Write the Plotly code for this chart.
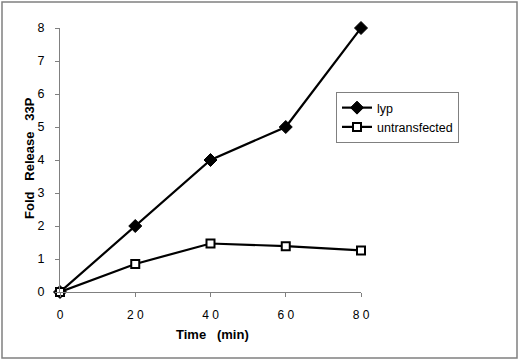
import plotly.graph_objects as go

time_min = [0, 20, 40, 60, 80]
lyp = [0, 2, 4, 5, 8]
untransfected = [0, 0.85, 1.47, 1.39, 1.26]
x_tick_vals = [0, 20, 40, 60, 80]
x_tick_text = ["0", "2 0", "4 0", "6 0", "8 0"]
y_tick_vals = [0, 1, 2, 3, 4, 5, 6, 7, 8]

FONT = "Liberation Sans, Arial, sans-serif"
W, H = 520, 362
L, R, T, B = 60, 159, 28, 70
pw, ph = W - L - R, H - T - B

def px_x(p):
    return (p - L) / pw

def px_y(p):
    return (H - B - p) / ph

fig = go.Figure()
fig.add_trace(go.Scatter(
    x=time_min, y=lyp, name="lyp", mode="lines+markers",
    line=dict(color="black", width=2.2),
    marker=dict(symbol="diamond", size=10, color="black", line=dict(color="black", width=1)),
    cliponaxis=False,
))
fig.add_trace(go.Scatter(
    x=time_min, y=untransfected, name="untransfected", mode="lines+markers",
    line=dict(color="black", width=2.2),
    marker=dict(symbol="square", size=8, color="white", line=dict(color="black", width=2)),
    cliponaxis=False,
))

fig.update_layout(
    width=W, height=H,
    margin=dict(l=L, r=R, t=T, b=B, autoexpand=False),
    paper_bgcolor="white", plot_bgcolor="white",
    font=dict(family=FONT, color="black", size=12),
    showlegend=True,
    legend=dict(
        x=px_x(336), y=px_y(92), xanchor="left", yanchor="top",
        bordercolor="#808080", borderwidth=1, bgcolor="white",
        font=dict(size=12.5, family=FONT), tracegroupgap=0,
        itemwidth=30,
    ),
    xaxis=dict(
        range=[0, 80], tickvals=x_tick_vals, ticktext=x_tick_text,
        showgrid=False, zeroline=False, showline=True, linecolor="#808080", linewidth=1,
        ticks="outside", ticklen=4, tickcolor="#808080", automargin=False,
        ticklabelstandoff=8, tickfont=dict(size=12),
    ),
    yaxis=dict(
        range=[0, 8], tickvals=y_tick_vals,
        showgrid=False, zeroline=False, showline=True, linecolor="#808080", linewidth=1,
        ticks="outside", ticklen=4, tickcolor="#808080", automargin=False,
        ticklabelstandoff=8, tickfont=dict(size=12.5),
    ),
    annotations=[
        dict(text="<b>Time   (min)</b>", xref="paper", yref="paper",
             x=px_x(212), y=px_y(334), xanchor="center", yanchor="middle",
             showarrow=False, font=dict(size=13)),
        dict(text="<b>Fold   Release   33P</b>", xref="paper", yref="paper",
             x=px_x(29), y=px_y(158), xanchor="center", yanchor="middle",
             textangle=-90, showarrow=False, font=dict(size=13)),
    ],
    shapes=[dict(
        type="rect", xref="paper", yref="paper",
        x0=px_x(2), x1=px_x(517), y0=px_y(358), y1=px_y(2),
        line=dict(color="#808080", width=1.5), fillcolor="rgba(0,0,0,0)", layer="below",
    )],
)

fig.write_html(
    "out.html",
    config={"displayModeBar": False},
    post_script="document.body.style.margin='0px';document.body.style.overflow='hidden';",
)
